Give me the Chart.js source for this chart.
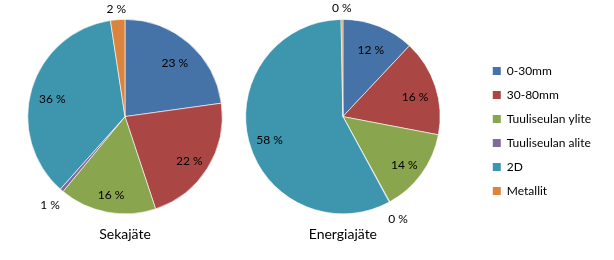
<!DOCTYPE html>
<html>
<head>
<meta charset="utf-8">
<script src="https://cdn.jsdelivr.net/npm/chart.js@4.4.2/dist/chart.umd.min.js"></script>
<style>
  html, body { margin: 0; padding: 0; background: #fff; }
  #wrap { position: relative; width: 614px; height: 260px; }
  #c1 { position: absolute; left: 0; top: 0; }
  #c2 { position: absolute; left: 190px; top: 0; }
</style>
</head>
<body>
<div id="wrap">
  <canvas id="c1" width="250" height="260"></canvas>
  <canvas id="c2" width="424" height="260"></canvas>
</div>
<script>
// data (percent shares)
const categories  = ['0-30mm', '30-80mm', 'Tuuliseulan ylite', 'Tuuliseulan alite', '2D', 'Metallit'];
const sekajate    = [22.8, 22.1, 16.1, 0.6, 36.0, 2.4];
const energiajate = [12.0, 16.0, 14.0, 0.1, 57.6, 0.3];
const titles      = ['Sekajäte', 'Energiajäte'];
const colors      = ['#4572A7', '#AA4643', '#89A54E', '#80699B', '#3D96AE', '#DB843D'];

const FONT = 'Lato';

// "23 %" style labels, small slices get theirs outside the pie
const pctLabels = {
  id: 'pctLabels',
  afterDatasetsDraw(chart) {
    const ctx = chart.ctx;
    const ds = chart.data.datasets[0];
    const total = ds.data.reduce((a, b) => a + b, 0);
    const meta = chart.getDatasetMeta(0);
    ctx.save();
    ctx.font = `12px ${FONT}`;
    ctx.fillStyle = '#000';
    ctx.textAlign = 'center';
    ctx.textBaseline = 'middle';
    meta.data.forEach((arc, i) => {
      const share = ds.data[i] / total * 100;
      const txt = Math.round(share) + ' %';
      const { x, y, startAngle, endAngle, outerRadius } =
        arc.getProps(['x', 'y', 'startAngle', 'endAngle', 'outerRadius'], true);
      const mid = (startAngle + endAngle) / 2;
      const cos = Math.cos(mid), sin = Math.sin(mid);
      let lx, ly;
      if (share >= 4) {
        lx = x + cos * outerRadius * 0.78;
        ly = y + sin * outerRadius * 0.78 + 4;
      } else {
        const hw = ctx.measureText(txt).width / 2;
        const d = outerRadius + 8;
        lx = x + cos * (d + hw);
        ly = y + sin * d + (sin > 0 ? 12 : 3) * sin;
      }
      ctx.fillText(txt, lx, ly);
    });
    ctx.restore();
  }
};

function makePie(id, values, title, showLegend, pad) {
  return new Chart(document.getElementById(id), {
    type: 'pie',
    data: {
      labels: categories,
      datasets: [{
        data: values,
        backgroundColor: colors,
        borderColor: 'rgba(255,255,255,0.8)',
        borderWidth: 0.75,
      }],
    },
    options: {
      responsive: false,
      animation: false,
      layout: { padding: pad },
      plugins: {
        legend: {
          display: showLegend,
          position: 'right',
          align: 'center',
          labels: {
            boxWidth: 8,
            boxHeight: 8,
            padding: 12,
            color: '#000',
            font: { family: FONT, size: 12 },
            generateLabels: (chart) =>
              Chart.overrides.pie.plugins.legend.labels.generateLabels(chart)
                .map(l => ({ ...l, lineWidth: 0 })),
          },
        },
        title: {
          display: true,
          text: title,
          position: 'bottom',
          fullSize: false,
          color: '#000',
          font: { family: FONT, size: 14, weight: 'normal' },
          padding: { top: 12, bottom: 0 },
        },
        tooltip: { enabled: false },
      },
    },
    plugins: [pctLabels],
  });
}

makePie('c1', sekajate, titles[0], false, { top: 19, left: 0, right: 0, bottom: 17 });
makePie('c2', energiajate, titles[1], true, { top: 19, left: 15, right: 13, bottom: 17 });
</script>
</body>
</html>
